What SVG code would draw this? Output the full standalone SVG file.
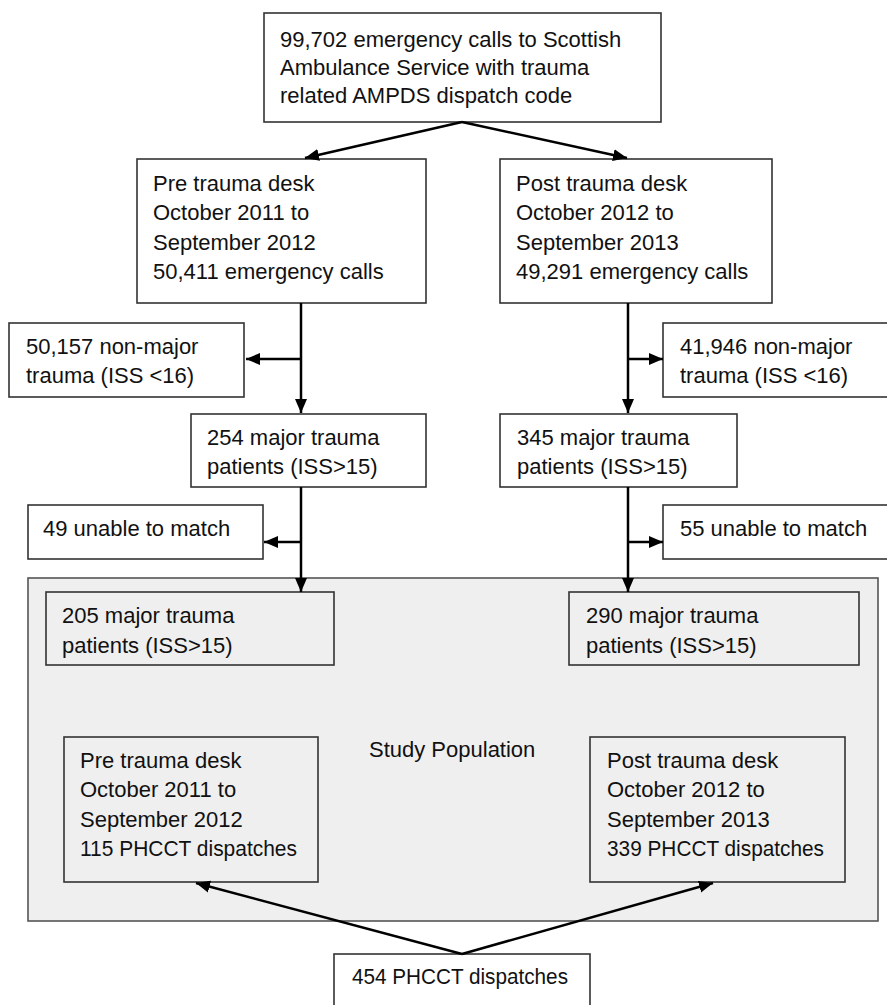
<svg xmlns="http://www.w3.org/2000/svg" width="887" height="1005" viewBox="0 0 887 1005">
<defs>
<marker id="ah" markerWidth="15" markerHeight="13" refX="14" refY="6.5" orient="auto" markerUnits="userSpaceOnUse">
<path d="M0,0.5 L14,6.5 L0,12.5 z" fill="#000"/>
</marker>
<style>
.box{fill:#fff;stroke:#333;stroke-width:1.6}
.inbox{fill:none;stroke:#333;stroke-width:1.6}
.pop{fill:#efefef;stroke:#555;stroke-width:1.6}
text{font-family:"Liberation Sans",Arial,sans-serif;font-size:22px;fill:#111}
.c line{stroke:#000;stroke-width:2.5;fill:none}
</style>
</defs>
<rect width="887" height="1005" fill="#fff"/>
<g id="study-population">
<rect class="pop" x="28" y="578" width="850" height="343"/>
<text x="369" y="757">Study Population</text>
</g>
<g id="n-top">
<rect class="box" x="264" y="13" width="397" height="109"/>
<text x="280" y="47">99,702 emergency calls to Scottish</text>
<text x="280" y="75">Ambulance Service with trauma</text>
<text x="280" y="103">related AMPDS dispatch code</text>
</g>
<g id="n-pre">
<rect class="box" x="137" y="159" width="289" height="144"/>
<text x="153" y="191">Pre trauma desk</text>
<text x="153" y="220">October 2011 to</text>
<text x="153" y="250">September 2012</text>
<text x="153" y="279">50,411 emergency calls</text>
</g>
<g id="n-post">
<rect class="box" x="500" y="159" width="272" height="144"/>
<text x="516" y="191">Post trauma desk</text>
<text x="516" y="220">October 2012 to</text>
<text x="516" y="250">September 2013</text>
<text x="516" y="279">49,291 emergency calls</text>
</g>
<g id="n-nonmajor-pre">
<rect class="box" x="9" y="323" width="235" height="74"/>
<text x="26" y="354">50,157 non-major</text>
<text x="26" y="383">trauma (ISS &lt;16)</text>
</g>
<g id="n-nonmajor-post">
<rect class="box" x="663" y="323" width="240" height="74"/>
<text x="680" y="354">41,946 non-major</text>
<text x="680" y="383">trauma (ISS &lt;16)</text>
</g>
<g id="n-254">
<rect class="box" x="191" y="414" width="235" height="73"/>
<text x="207" y="445">254 major trauma</text>
<text x="207" y="474">patients (ISS&gt;15)</text>
</g>
<g id="n-345">
<rect class="box" x="500" y="414" width="237" height="73"/>
<text x="517" y="445">345 major trauma</text>
<text x="517" y="474">patients (ISS&gt;15)</text>
</g>
<g id="n-49">
<rect class="box" x="28" y="505" width="235" height="54"/>
<text x="43" y="536">49 unable to match</text>
</g>
<g id="n-55">
<rect class="box" x="663" y="505" width="240" height="54"/>
<text x="680" y="536">55 unable to match</text>
</g>
<g id="n-205">
<rect class="inbox" x="46" y="592" width="288" height="73"/>
<text x="62" y="623">205 major trauma</text>
<text x="62" y="653">patients (ISS&gt;15)</text>
</g>
<g id="n-290">
<rect class="inbox" x="569" y="592" width="290" height="73"/>
<text x="586" y="623">290 major trauma</text>
<text x="586" y="653">patients (ISS&gt;15)</text>
</g>
<g id="n-pre-phcct">
<rect class="inbox" x="64" y="737" width="254" height="145"/>
<text x="80" y="768">Pre trauma desk</text>
<text x="80" y="797">October 2011 to</text>
<text x="80" y="827">September 2012</text>
<text x="80" y="856" textLength="217" lengthAdjust="spacingAndGlyphs">115 PHCCT dispatches</text>
</g>
<g id="n-post-phcct">
<rect class="inbox" x="590" y="737" width="255" height="145"/>
<text x="607" y="768">Post trauma desk</text>
<text x="607" y="797">October 2012 to</text>
<text x="607" y="827">September 2013</text>
<text x="607" y="856" textLength="217" lengthAdjust="spacingAndGlyphs">339 PHCCT dispatches</text>
</g>
<g id="n-454">
<rect class="box" x="334" y="954" width="256" height="60"/>
<text x="352" y="984" textLength="216" lengthAdjust="spacingAndGlyphs">454 PHCCT dispatches</text>
</g>
<g id="connectors" class="c">
<line x1="462" y1="122" x2="305" y2="158" marker-end="url(#ah)"/>
<line x1="462" y1="122" x2="627" y2="158" marker-end="url(#ah)"/>
<line x1="301" y1="303" x2="301" y2="413" marker-end="url(#ah)"/>
<line x1="301" y1="359" x2="246" y2="359" marker-end="url(#ah)"/>
<line x1="628" y1="303" x2="628" y2="413" marker-end="url(#ah)"/>
<line x1="628" y1="359" x2="663" y2="359" marker-end="url(#ah)"/>
<line x1="301" y1="487" x2="301" y2="592" marker-end="url(#ah)"/>
<line x1="301" y1="542" x2="264" y2="542" marker-end="url(#ah)"/>
<line x1="628" y1="487" x2="628" y2="592" marker-end="url(#ah)"/>
<line x1="628" y1="542" x2="663" y2="542" marker-end="url(#ah)"/>
<line x1="462" y1="954" x2="196" y2="883" marker-end="url(#ah)"/>
<line x1="462" y1="954" x2="713" y2="883" marker-end="url(#ah)"/>
</g>
</svg>
